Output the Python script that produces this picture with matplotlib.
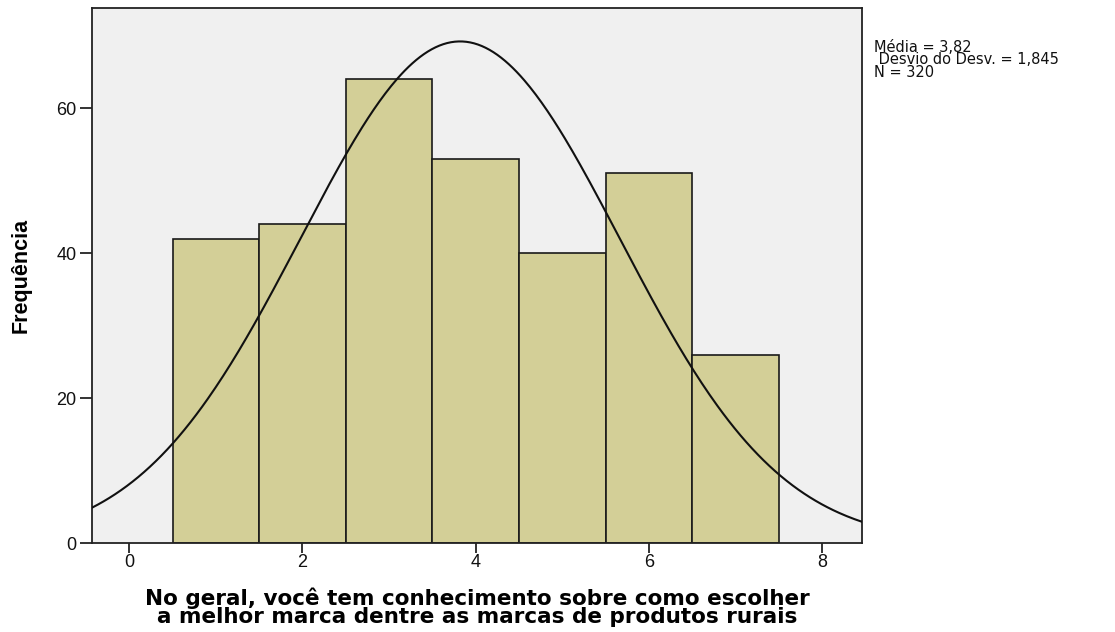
import matplotlib
matplotlib.use('Agg')
import matplotlib.pyplot as plt
import numpy as np

# histogram data (bin centres and counts)
bins = [1, 2, 3, 4, 5, 6, 7]
counts = [42, 44, 64, 53, 40, 51, 26]
mean, sd, n = 3.82, 1.845, 320
xticks = [0, 2, 4, 6, 8]
yticks = [0, 20, 40, 60]

plt.rcParams['font.family'] = ['Liberation Sans', 'DejaVu Sans']

fig = plt.figure(figsize=(11.15, 6.32), dpi=100)
ax = fig.add_axes([0.0825, 0.1408, 0.6906, 0.8465])
ax.set_facecolor('#f0f0f0')

ax.bar(bins, counts, width=1.0, color='#d3cf97', edgecolor='#1a1a1a', linewidth=1.2, zorder=2)

# fitted normal curve
xs = np.linspace(-0.43, 8.46, 400)
ys = n * 1.0 / (sd * np.sqrt(2 * np.pi)) * np.exp(-0.5 * ((xs - mean) / sd) ** 2)
ax.plot(xs, ys, color='#111111', linewidth=1.5, zorder=3)

ax.set_xlim(-0.43, 8.46)
ax.set_ylim(0, 73.8)
ax.set_xticks(xticks)
ax.set_yticks(yticks)
ax.tick_params(axis='both', direction='out', width=1.2, labelsize=13, colors='#111111')
ax.tick_params(axis='x', length=7, pad=1)
ax.tick_params(axis='y', length=9, pad=2)
for s in ax.spines.values():
    s.set_color('#222222')
    s.set_linewidth(1.3)

ax.set_ylabel('Frequência', fontsize=15.5, fontweight='bold', labelpad=18)
ax.set_xlabel('No geral, você tem conhecimento sobre como escolher\na melhor marca dentre as marcas de produtos rurais',
              fontsize=15.5, fontweight='bold', family=['DejaVu Sans'], linespacing=0.85, labelpad=12)

fig.text(0.784, 0.937, 'Média = 3,82\n Desvio do Desv. = 1,845\nN = 320', fontsize=10.5,
         family=['DejaVu Sans'], va='top', ha='left', linespacing=0.8, color='#111111')

plt.savefig('out.png', dpi=100, facecolor='white')
